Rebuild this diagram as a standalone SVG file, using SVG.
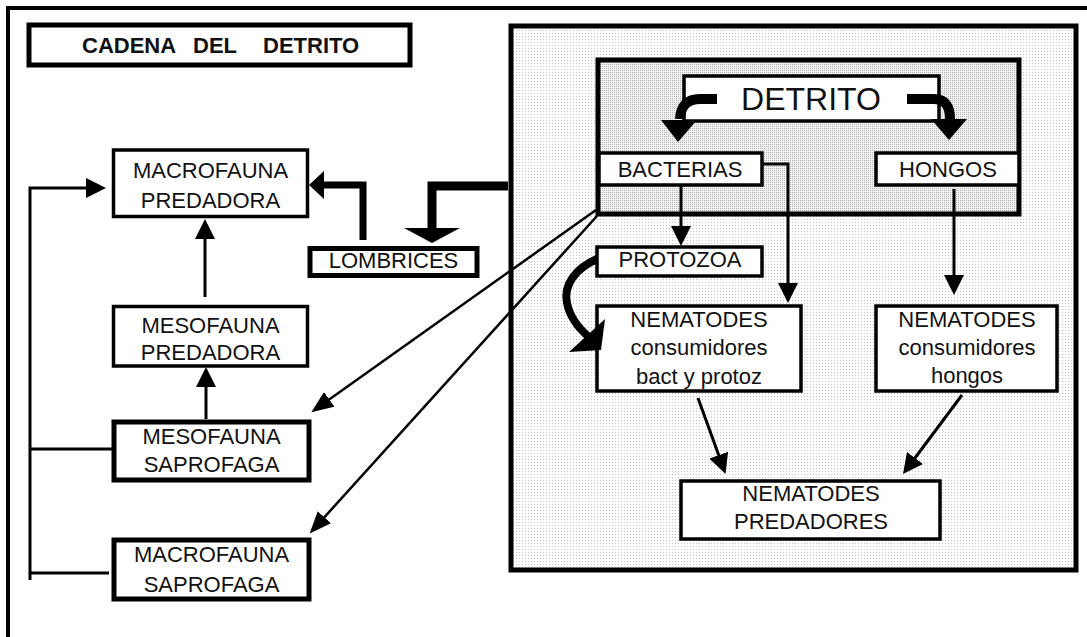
<svg xmlns="http://www.w3.org/2000/svg" width="1087" height="637" viewBox="0 0 1087 637">
  <defs>
    <pattern id="dotsLight" width="3" height="3" patternUnits="userSpaceOnUse">
      <rect width="3" height="3" fill="#ffffff"/>
      <rect width="1" height="1" fill="#c4c4c4"/>
    </pattern>
    <pattern id="dotsDense" width="2" height="2" patternUnits="userSpaceOnUse">
      <rect width="2" height="2" fill="#f2f2f2"/>
      <rect width="1" height="1" fill="#b4b4b4"/>
    </pattern>
    <marker id="head" viewBox="0 0 20 20" refX="10" refY="10" markerWidth="20" markerHeight="20" markerUnits="userSpaceOnUse" orient="auto">
      <path d="M0,0 L20,10 L0,20 Z" fill="#000"/>
    </marker>
    <marker id="headSlim" viewBox="0 0 22 18" refX="10" refY="9" markerWidth="22" markerHeight="18" markerUnits="userSpaceOnUse" orient="auto">
      <path d="M0,0 L22,9 L0,18 Z" fill="#000"/>
    </marker>
    <style>
      .box { fill: #ffffff; stroke: #000; stroke-width: 3.5; }
      .boxHeavy { fill: #ffffff; stroke: #000; stroke-width: 5; }
      .lbl { font-family: "Liberation Sans", Arial, sans-serif; font-size: 22px; fill: #111; text-anchor: middle; }
      .title { font-family: "Liberation Sans", Arial, sans-serif; font-size: 22px; font-weight: bold; fill: #111; }
      .wire { fill: none; stroke: #000; stroke-width: 3; }
      .wireThin { fill: none; stroke: #000; stroke-width: 2.5; }
      .fat { fill: none; stroke: #000; }
    </style>
  </defs>

  <!-- page frame -->
  <rect x="8" y="8" width="1110" height="700" fill="#ffffff" stroke="#000" stroke-width="4"/>

  <!-- soil micro-food-web panel -->
  <g id="panel">
    <rect x="511" y="26" width="565" height="544" fill="url(#dotsLight)" stroke="#000" stroke-width="5"/>
    <rect x="598" y="60" width="421" height="154" fill="url(#dotsDense)" stroke="#000" stroke-width="5"/>
  </g>

  <g id="title">
    <rect class="boxHeavy" x="29" y="25" width="381" height="40" stroke-width="5.5"/>
    <text class="title" y="53"><tspan x="82">CADENA</tspan><tspan x="193">DEL</tspan><tspan x="263">DETRITO</tspan></text>
  </g>

  <g id="detrito">
    <rect class="box" x="684" y="76" width="255" height="45" stroke-width="4.5"/>
    <text class="lbl" x="811" y="110" style="font-size:32px">DETRITO</text>
  </g>

  <g id="bacterias">
    <rect class="box" x="599" y="153" width="163" height="32" stroke-width="4.5"/>
    <text class="lbl" x="680" y="177">BACTERIAS</text>
  </g>

  <g id="hongos">
    <rect class="box" x="876" y="153" width="143" height="32" stroke-width="4.5"/>
    <text class="lbl" x="948" y="177">HONGOS</text>
  </g>

  <g id="protozoa">
    <rect class="box" x="597" y="247" width="165" height="29" stroke-width="4"/>
    <text class="lbl" x="680" y="267">PROTOZOA</text>
  </g>

  <g id="nematodes-bact">
    <rect class="box" x="597" y="306" width="204" height="85" stroke-width="4"/>
    <text class="lbl" x="699" y="327">NEMATODES</text>
    <text class="lbl" x="699" y="355">consumidores</text>
    <text class="lbl" x="699" y="384">bact y protoz</text>
  </g>

  <g id="nematodes-hongos">
    <rect class="box" x="876" y="306" width="181" height="85" stroke-width="4"/>
    <text class="lbl" x="967" y="327">NEMATODES</text>
    <text class="lbl" x="967" y="355">consumidores</text>
    <text class="lbl" x="967" y="383">hongos</text>
  </g>

  <g id="nematodes-predadores">
    <rect class="box" x="681" y="481" width="259" height="58" stroke-width="4"/>
    <text class="lbl" x="811" y="501">NEMATODES</text>
    <text class="lbl" x="811" y="529">PREDADORES</text>
  </g>

  <g id="lombrices">
    <rect class="boxHeavy" x="310" y="248.5" width="167" height="27"/>
    <text class="lbl" x="393.5" y="268">LOMBRICES</text>
  </g>

  <g id="macrofauna-predadora">
    <rect class="box" x="113.5" y="150" width="194" height="66.5"/>
    <text class="lbl" x="210.5" y="178">MACROFAUNA</text>
    <text class="lbl" x="210.5" y="208">PREDADORA</text>
  </g>

  <g id="mesofauna-predadora">
    <rect class="box" x="113.5" y="306.5" width="194" height="59.5"/>
    <text class="lbl" x="210.5" y="333">MESOFAUNA</text>
    <text class="lbl" x="210.5" y="360">PREDADORA</text>
  </g>

  <g id="mesofauna-saprofaga">
    <rect class="boxHeavy" x="114" y="422" width="195" height="58"/>
    <text class="lbl" x="211.5" y="444">MESOFAUNA</text>
    <text class="lbl" x="211.5" y="472">SAPROFAGA</text>
  </g>

  <g id="macrofauna-saprofaga">
    <rect class="boxHeavy" x="114" y="540" width="195" height="59"/>
    <text class="lbl" x="211.5" y="562">MACROFAUNA</text>
    <text class="lbl" x="211.5" y="592">SAPROFAGA</text>
  </g>

  <g id="connectors">
    <!-- feedback bus on the left -->
    <path class="wire" d="M30 580 V188 H96" stroke-width="4" marker-end="url(#head)"/>
    <path class="wire" d="M30 449 H112"/>
    <path class="wire" d="M30 573 H109"/>

    <!-- fauna chain -->
    <path class="wire" d="M206 419 V377" stroke-width="4" marker-end="url(#head)"/>
    <path class="wire" d="M205 297 V229" stroke-width="4" marker-end="url(#head)"/>

    <!-- lombrices loop -->
    <path class="fat" d="M363 240 V185 H323" stroke-width="7"/>
    <polygon points="324,171 309,185 324,199" fill="#000"/>
    <path class="fat" d="M508 186 H432 V229" stroke-width="9"/>
    <polygon points="404,228 460,228 432,243" fill="#000"/>

    <!-- from bacteria to the fauna -->
    <path class="wireThin" d="M596 210 L321.1 405.2" marker-end="url(#headSlim)"/>
    <path class="wireThin" d="M597 216 L317.7 524.6" marker-end="url(#headSlim)"/>

    <!-- detritus split -->
    <path class="fat" d="M717 99 H700 Q681 99 680 119" stroke-width="10"/>
    <polygon points="661,120 697,120 678,142" fill="#000"/>
    <path class="fat" d="M907 99 H934 Q950 99 950 119" stroke-width="10"/>
    <polygon points="931,119 967,119 949,140" fill="#000"/>

    <!-- bacteria and fungi branches -->
    <path class="wire" d="M681 185 V236" marker-end="url(#head)"/>
    <path class="wire" d="M762 164 H788 V293" marker-end="url(#head)"/>
    <path class="wire" d="M954 189 V285" marker-end="url(#head)"/>

    <!-- protozoa fed to nematodes -->
    <path class="fat" d="M597 259 C576 268 563 285 567 303 C570 318 578 328 590 338" stroke-width="8"/>
    <polygon points="605,319 601,350 569,352" fill="#000"/>

    <!-- to predatory nematodes -->
    <path class="wire" d="M698 398 L722.1 464.6" marker-end="url(#head)"/>
    <path class="wire" d="M962 395 L909 466" marker-end="url(#head)"/>
  </g>
</svg>
